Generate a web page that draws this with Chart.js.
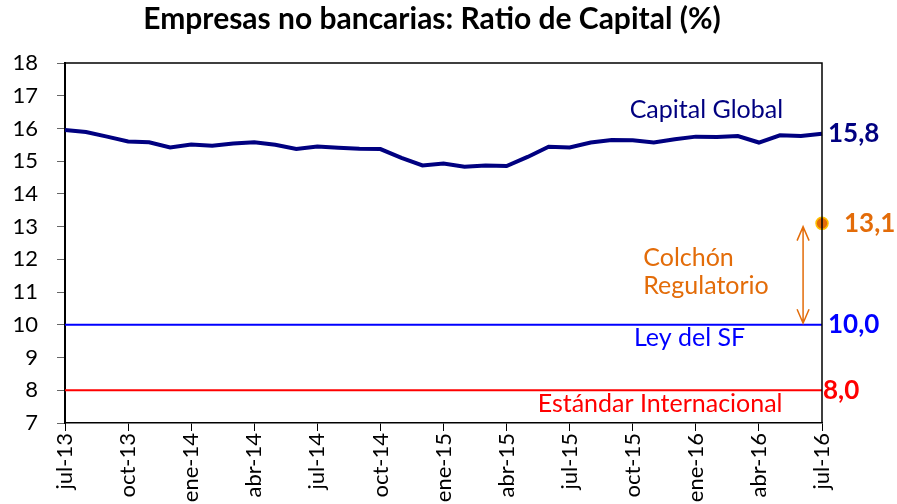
<!DOCTYPE html>
<html>
<head>
<meta charset="utf-8">
<script src="https://cdn.jsdelivr.net/npm/chart.js@4.4.1/dist/chart.umd.min.js"></script>
<style>
  html, body { margin: 0; padding: 0; background: #fff; }
  #wrap { width: 897px; height: 504px; }
</style>
</head>
<body>
<div id="wrap"><canvas id="ratioChart" width="897" height="504"></canvas></div>
<script>
// Meses (jul-13 a jul-16)
const meses = [
  'jul-13', 'ago-13', 'sep-13', 'oct-13', 'nov-13', 'dic-13',
  'ene-14', 'feb-14', 'mar-14', 'abr-14', 'may-14', 'jun-14',
  'jul-14', 'ago-14', 'sep-14', 'oct-14', 'nov-14', 'dic-14',
  'ene-15', 'feb-15', 'mar-15', 'abr-15', 'may-15', 'jun-15',
  'jul-15', 'ago-15', 'sep-15', 'oct-15', 'nov-15', 'dic-15',
  'ene-16', 'feb-16', 'mar-16', 'abr-16', 'may-16', 'jun-16',
  'jul-16'
];

// Ratio de capital global (%)
const capitalGlobal = [
  15.95, 15.89, 15.75, 15.60, 15.58, 15.42, 15.51, 15.47, 15.54, 15.58,
  15.50, 15.37, 15.45, 15.41, 15.38, 15.37, 15.10, 14.87, 14.93, 14.83,
  14.87, 14.85, 15.13, 15.44, 15.42, 15.57, 15.65, 15.64, 15.57, 15.67,
  15.75, 15.74, 15.77, 15.57, 15.79, 15.77, 15.84
];

// Límites regulatorios (inicio y fin del periodo)
const leySF = [10, 10];
const estandarInternacional = [8, 8];
const colchonRegulatorio = 13.1;

// Eje Y
const yMin = 7;
const yMax = 18;

const FONT = "Lato, 'Open Sans', sans-serif";

// Serie con un solo punto al final (colchón)
const colchonData = meses.map((m, i) => (i === meses.length - 1 ? colchonRegulatorio : null));

// Plugin: marco, título y anotaciones de texto
const anotaciones = {
  id: 'anotaciones',
  afterDatasetsDraw(chart) {
    const { ctx, chartArea, scales } = chart;
    const x = scales.x, y = scales.y;
    const ultimo = meses.length - 1;

    // marco superior y derecho
    ctx.save();
    ctx.strokeStyle = '#000';
    ctx.lineWidth = 1.5;
    ctx.beginPath();
    ctx.moveTo(chartArea.left, chartArea.top);
    ctx.lineTo(chartArea.right, chartArea.top);
    ctx.lineTo(chartArea.right, chartArea.bottom);
    ctx.stroke();

    // flecha doble (colchón)
    const ax = x.getPixelForValue(35.1);
    const aTop = y.getPixelForValue(13.0);
    const aBot = y.getPixelForValue(10.05);
    ctx.strokeStyle = '#E36C09';
    ctx.lineWidth = 1.5;
    ctx.beginPath();
    ctx.moveTo(ax, aTop);
    ctx.lineTo(ax, aBot);
    ctx.moveTo(ax - 6, aTop + 14);
    ctx.lineTo(ax, aTop);
    ctx.lineTo(ax + 6, aTop + 14);
    ctx.moveTo(ax - 6, aBot - 14);
    ctx.lineTo(ax, aBot);
    ctx.lineTo(ax + 6, aBot - 14);
    ctx.stroke();

    ctx.textBaseline = 'middle';

    // título
    ctx.fillStyle = '#000';
    ctx.font = "bold 30px " + FONT;
    ctx.textAlign = 'center';
    ctx.fillText('Empresas no bancarias: Ratio de Capital (%)', 432, 19);

    // etiquetas de series
    ctx.font = "25px " + FONT;
    ctx.fillStyle = '#000080';
    ctx.fillText('Capital Global', x.getPixelForValue(30.5), y.getPixelForValue(16.56));
    ctx.fillStyle = '#0000FF';
    ctx.fillText('Ley del SF', x.getPixelForValue(29.7), y.getPixelForValue(9.6));
    ctx.fillStyle = '#FF0000';
    ctx.fillText('Estándar Internacional', x.getPixelForValue(28.3), y.getPixelForValue(7.57));
    ctx.fillStyle = '#E36C09';
    ctx.textAlign = 'left';
    ctx.fillText('Colchón', x.getPixelForValue(27.5), y.getPixelForValue(12.04));
    ctx.fillText('Regulatorio', x.getPixelForValue(27.5), y.getPixelForValue(11.2));

    // valores finales
    const xr = x.getPixelForValue(ultimo);
    ctx.font = "bold 26px " + FONT;
    ctx.fillStyle = '#000080';
    ctx.fillText('15,8', xr + 6, y.getPixelForValue(capitalGlobal[ultimo]));
    ctx.fillStyle = '#E36C09';
    ctx.fillText('13,1', xr + 22, y.getPixelForValue(colchonRegulatorio));
    ctx.fillStyle = '#0000FF';
    ctx.fillText('10,0', xr + 6, y.getPixelForValue(leySF[1]));
    ctx.fillStyle = '#FF0000';
    ctx.fillText('8,0', xr + 1, y.getPixelForValue(estandarInternacional[1]));
    ctx.restore();
  }
};

new Chart(document.getElementById('ratioChart'), {
  type: 'line',
  data: {
    labels: meses,
    datasets: [
      {
        label: 'Estándar Internacional',
        data: [{ x: meses[0], y: estandarInternacional[0] }, { x: meses[meses.length - 1], y: estandarInternacional[1] }],
        borderColor: '#FF0000',
        borderWidth: 2,
        pointRadius: 0
      },
      {
        label: 'Ley del SF',
        data: [{ x: meses[0], y: leySF[0] }, { x: meses[meses.length - 1], y: leySF[1] }],
        borderColor: '#0000FF',
        borderWidth: 2,
        pointRadius: 0
      },
      {
        label: 'Capital Global',
        data: capitalGlobal,
        borderColor: '#000080',
        borderWidth: 4,
        pointRadius: 0,
        tension: 0
      },
      {
        label: 'Colchón Regulatorio',
        data: colchonData,
        showLine: false,
        pointRadius: 6,
        pointBackgroundColor: '#E36C09',
        pointBorderColor: '#FFC000',
        pointBorderWidth: 1.5
      }
    ]
  },
  options: {
    responsive: false,
    animation: false,
    layout: { padding: { left: 0, right: 75, top: 63, bottom: 0 } },
    plugins: {
      legend: { display: false },
      title: { display: false },
      tooltip: { enabled: false }
    },
    scales: {
      x: {
        type: 'category',
        offset: false,
        afterFit: (scale) => { scale.height = 81; },
        grid: {
          drawOnChartArea: false,
          drawTicks: true,
          tickLength: 8,
          tickColor: (c) => (c.index % 3 === 0 ? '#000' : 'rgba(0,0,0,0)')
        },
        border: { color: '#000', width: 1.5 },
        ticks: {
          autoSkip: false,
          maxRotation: 90,
          minRotation: 90,
          color: '#000',
          font: { family: FONT, size: 22 },
          padding: 2,
          callback: function (val, index) {
            return index % 3 === 0 ? this.getLabelForValue(val) : '';
          }
        }
      },
      y: {
        min: yMin,
        max: yMax,
        afterFit: (scale) => { scale.width = 65; },
        grid: { drawOnChartArea: false, drawTicks: true, tickLength: 8, tickColor: '#666' },
        border: { color: '#000', width: 2 },
        ticks: {
          stepSize: 1,
          color: '#000',
          font: { family: FONT, size: 22 },
          padding: 19
        }
      }
    }
  },
  plugins: [anotaciones]
});
</script>
</body>
</html>
